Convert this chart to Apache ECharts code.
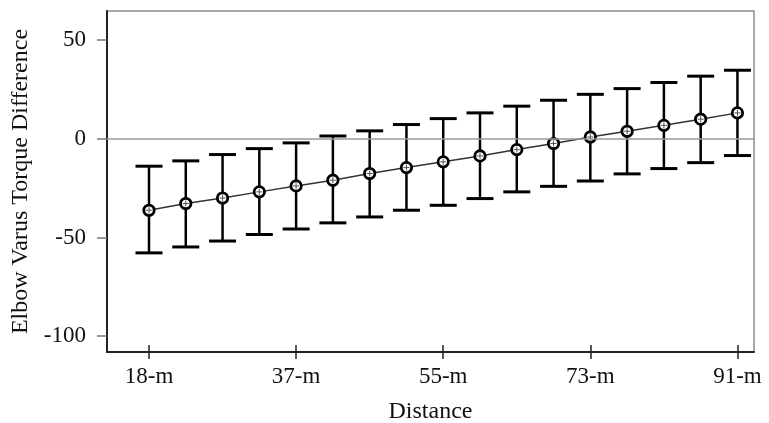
<!DOCTYPE html>
<html>
<head>
<meta charset="utf-8">
<script src="https://cdn.jsdelivr.net/npm/echarts@6/dist/echarts.min.js"></script>
<style>
html,body{margin:0;padding:0;background:#fff;}
#chart{width:769px;height:423px;}
</style>
</head>
<body>
<div id="chart"></div>
<script>
const categories = ["18-m","23-m","27-m","32-m","37-m","41-m","46-m","50-m","55-m","59-m","64-m","69-m","73-m","78-m","82-m","87-m","91-m"];
const means = [-36.2,-32.8,-30.0,-26.9,-23.9,-21.0,-17.6,-14.6,-11.7,-8.7,-5.5,-2.4,0.9,3.8,6.8,9.9,13.1];
const upper = [-13.9,-11.2,-8.0,-5.0,-2.1,1.4,4.0,7.2,10.2,13.1,16.5,19.5,22.5,25.4,28.5,31.7,34.7];
const lower = [-57.8,-54.8,-51.8,-48.5,-45.7,-42.6,-39.6,-36.2,-33.7,-30.3,-26.9,-24.1,-21.4,-17.8,-15.1,-12.1,-8.5];
const xTickLabels = ["18-m","37-m","55-m","73-m","91-m"];
const yTicks = [-100,-50,0,50];
const xTitle = "Distance";
const yTitle = "Elbow Varus Torque Difference";

const xTickPos = xTickLabels.map(l => categories.indexOf(l));
const lineData = means.map((m, i) => [i, m]);
const errData = means.map((m, i) => [i, lower[i], upper[i], m]);

const font = "'Liberation Serif', 'Times New Roman', serif";
const chart = echarts.init(document.getElementById('chart'));

chart.setOption({
  animation: false,
  backgroundColor: '#fff',
  grid: {left: 107, right: 15, top: 11, bottom: 71, containLabel: false, outerBoundsMode: 'none',
    show: true, borderColor: '#8c8c8c', borderWidth: 1.5},
  xAxis: [{
    type: 'value', min: -1.142, max: 16.45, position: 'bottom',
    name: xTitle, nameLocation: 'middle', nameGap: 48,
    nameTextStyle: {fontFamily: font, fontSize: 24, color: '#111'},
    axisLine: {show: true, onZero: false, lineStyle: {color: '#222', width: 2}},
    axisTick: {show: true, length: 7, customValues: xTickPos, lineStyle: {color: '#222', width: 1.5}},
    axisLabel: {show: true, customValues: xTickPos, margin: 13, fontFamily: font, fontSize: 23, color: '#111',
      formatter: v => categories[Math.round(v)]},
    splitLine: {show: false}
  }, {
    type: 'value', min: -1.142, max: 16.45, position: 'bottom',
    axisLine: {show: false, onZero: false},
    axisTick: {show: true, inside: true, length: 7, customValues: xTickPos, lineStyle: {color: '#222', width: 1.5}},
    axisLabel: {show: false},
    splitLine: {show: false}
  }],
  yAxis: {
    type: 'value', min: -108, max: 64.7,
    name: yTitle, nameLocation: 'middle', nameGap: 63, nameRotate: 90,
    nameTextStyle: {fontFamily: font, fontSize: 24, color: '#111'},
    axisLine: {show: true, onZero: false, lineStyle: {color: '#222', width: 2}},
    axisTick: {show: true, length: 10, customValues: yTicks, lineStyle: {color: '#777', width: 1.5}},
    axisLabel: {show: true, customValues: yTicks, margin: 21, fontFamily: font, fontSize: 23, color: '#111'},
    splitLine: {show: false}
  },
  series: [{
    type: 'custom',
    xAxisIndex: 0,
    data: errData,
    z: 2,
    renderItem: function (params, api) {
      const x = api.value(0);
      const lo = api.coord([x, api.value(1)]);
      const hi = api.coord([x, api.value(2)]);
      const hw = 13.5;
      return {type: 'group', children: [
        {type: 'line', shape: {x1: lo[0], y1: lo[1], x2: hi[0], y2: hi[1]}, style: {stroke: '#000', lineWidth: 2.5}},
        {type: 'line', shape: {x1: lo[0]-hw, y1: lo[1], x2: lo[0]+hw, y2: lo[1]}, style: {stroke: '#000', lineWidth: 3}},
        {type: 'line', shape: {x1: hi[0]-hw, y1: hi[1], x2: hi[0]+hw, y2: hi[1]}, style: {stroke: '#000', lineWidth: 3}}
      ]};
    }
  }, {
    type: 'line',
    xAxisIndex: 0,
    data: lineData,
    z: 3,
    showSymbol: false,
    symbol: 'none',
    lineStyle: {color: '#333', width: 1.5},
    markLine: {
      silent: true, symbol: 'none', label: {show: false},
      lineStyle: {color: '#999', width: 1.5, type: 'solid'},
      data: [{yAxis: 0}]
    }
  }, {
    type: 'custom',
    xAxisIndex: 0,
    data: lineData,
    z: 4,
    renderItem: function (params, api) {
      const p = api.coord([api.value(0), api.value(1)]);
      return {type: 'group', children: [
        {type: 'circle', shape: {cx: p[0], cy: p[1], r: 5.2}, style: {fill: '#fff', stroke: '#000', lineWidth: 2.8}},
        {type: 'line', shape: {x1: p[0]-3, y1: p[1], x2: p[0]+3, y2: p[1]}, style: {stroke: '#555', lineWidth: 1}},
        {type: 'line', shape: {x1: p[0], y1: p[1]-3, x2: p[0], y2: p[1]+3}, style: {stroke: '#555', lineWidth: 1}}
      ]};
    }
  }]
});
</script>
</body>
</html>
